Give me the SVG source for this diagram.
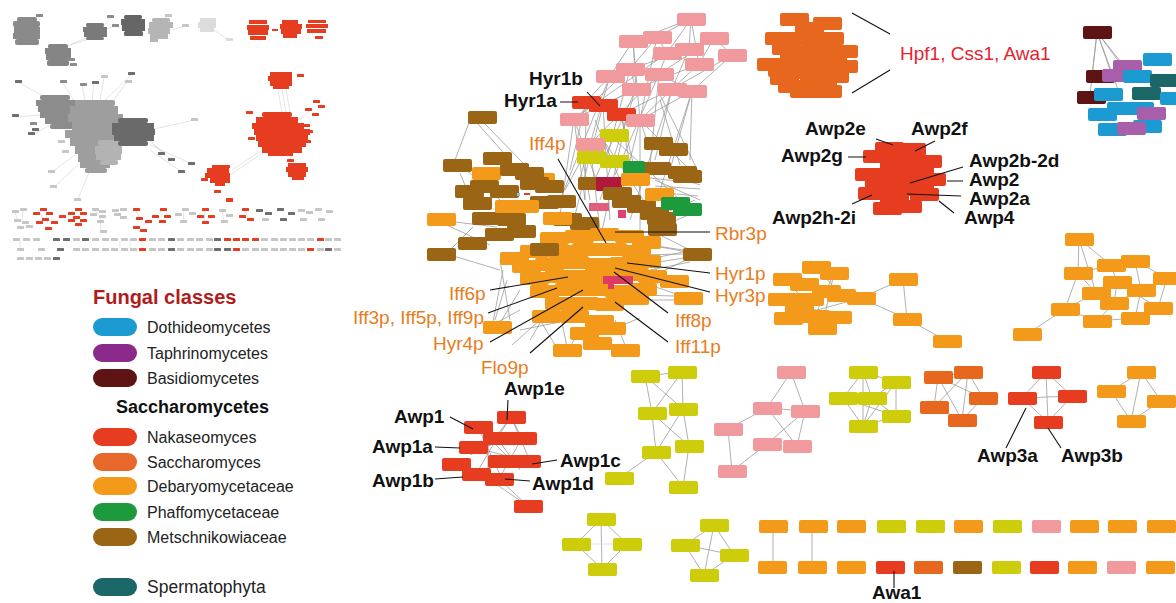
<svg xmlns="http://www.w3.org/2000/svg" xmlns:xlink="http://www.w3.org/1999/xlink" width="1176" height="603" viewBox="0 0 1176 603">
<style>
.e{stroke:#9c9c9c;stroke-width:0.8;fill:none}
.te{stroke:#c9c9c9;stroke-width:0.5;fill:none}
.ld{stroke:#111;stroke-width:1.1;fill:none}
.pk{fill:#f09a9d}.rd{fill:#e63c1f}.og{fill:#e8671e}.db{fill:#f49a1a}.yl{fill:#cdcd0c}.br{fill:#9a6615}.gr{fill:#1c9a3c}.cr{fill:#b0183c}.bl{fill:#1b9bd1}.pu{fill:#a85ea8}.ba{fill:#5e1414}.tl{fill:#1b6666}
.L{fill:#c6c6c6}.D{fill:#6e6e6e}.M{fill:#8c8c8c}.R{fill:#e63c1f}
.lb{font-family:"Liberation Sans",Arial,sans-serif;font-weight:bold;font-size:19px;fill:#111}
.lo{font-family:"Liberation Sans",Arial,sans-serif;font-size:19px;fill:#e87d1e}
.lg{font-family:"Liberation Sans",Arial,sans-serif;font-size:16px;fill:#222}
</style>
<defs>
<rect id="n" width="29" height="13" rx="2"/>
<rect id="s" width="7" height="3" rx="0.6"/>
</defs>
<rect width="1176" height="603" fill="#fff"/>

<!-- thumbnail overview -->
<g id="thumbnail">
<path class="te" d="M40,20L38,16 M88,37L65,47 M92,38L70,45 M104,26L110,18 M104,30L114,26 M170,28L166,17 M172,30L184,26 M214,30L228,40 M18,82L50,100 M131,75L105,100 M104,78L100,100 M16,117L40,115 M32,135L50,125 M194,120L150,130 M192,164L150,145 M182,172L150,150 M52,172L75,155 M78,199L90,170 M54,187L78,165 M62,82L75,102 M82,84L85,102 M94,82L92,102 M127,82L110,105 M150,140L165,155 M150,142L172,160 M232,170L262,150 M230,175L264,152 M278,90L282,112 M282,90L286,112 M286,89L290,112 M312,108L300,120 M292,163L290,155 M300,118L290,128"/>
<g fill="#8a8a8a"><rect x="17" y="17" width="20" height="5" rx="2"/><rect x="13" y="21" width="27" height="6" rx="2"/><rect x="14" y="27" width="26" height="6"/><rect x="13" y="33" width="27" height="6"/><rect x="15" y="39" width="24" height="6" rx="2"/></g>
<use href="#s" x="36" y="14" class="M"/>
<g fill="#858585"><rect x="48" y="44" width="20" height="5" rx="2"/><rect x="45" y="48" width="26" height="6"/><rect x="46" y="54" width="25" height="6"/><rect x="47" y="60" width="22" height="6" rx="2"/></g>
<use href="#s" x="68" y="58" class="M"/><use href="#s" x="70" y="63" class="M"/>
<g fill="#7a7a7a"><rect x="86" y="23" width="18" height="4" rx="1.5"/><rect x="83" y="27" width="24" height="5"/><rect x="84" y="32" width="23" height="5"/><rect x="86" y="37" width="18" height="3" rx="1.5"/></g>
<use href="#s" x="107" y="15" class="M"/><use href="#s" x="112" y="24" class="M"/>
<g fill="#666"><rect x="124" y="15" width="18" height="4" rx="1.5"/><rect x="121" y="19" width="24" height="6"/><rect x="122" y="25" width="23" height="6"/><rect x="124" y="31" width="19" height="5" rx="1.5"/></g>
<g fill="#b5b5b5"><rect x="152" y="18" width="18" height="4" rx="1.5"/><rect x="149" y="22" width="24" height="6"/><rect x="148" y="28" width="22" height="6"/><rect x="150" y="34" width="18" height="5"/><rect x="150" y="39" width="8" height="3"/></g>
<use href="#s" x="165" y="14" class="L"/><use href="#s" x="182" y="24" class="L"/>
<g fill="#dcdcdc"><rect x="200" y="18" width="16" height="4"/><rect x="198" y="22" width="18" height="6"/><rect x="200" y="28" width="14" height="4"/></g>
<use href="#s" x="226" y="38" fill="#dcdcdc"/>
<g fill="#e63c1f"><rect x="249" y="20" width="18" height="4"/><rect x="247" y="25" width="22" height="5"/><rect x="248" y="30" width="20" height="5"/><rect x="250" y="36" width="16" height="4"/>
<rect x="282" y="20" width="16" height="4"/><rect x="280" y="24" width="22" height="5"/><rect x="281" y="29" width="20" height="5"/><rect x="283" y="34" width="14" height="4"/>
<rect x="308" y="20" width="18" height="3"/><rect x="306" y="24" width="22" height="4"/><rect x="307" y="29" width="19" height="4"/><rect x="315" y="36" width="8" height="3"/><rect x="272" y="29" width="6" height="2"/></g>
<!-- gray network -->
<g fill="#8c8c8c"><rect x="40" y="95" width="30" height="5" rx="2"/><rect x="36" y="100" width="40" height="6"/><rect x="38" y="106" width="45" height="6"/><rect x="40" y="112" width="42" height="6"/><rect x="45" y="118" width="35" height="6"/><rect x="50" y="124" width="30" height="5" rx="2"/></g>
<g fill="#9e9e9e"><rect x="75" y="100" width="40" height="6" rx="2"/><rect x="70" y="106" width="48" height="8"/><rect x="68" y="114" width="55" height="8"/><rect x="72" y="122" width="50" height="8"/><rect x="65" y="130" width="55" height="8"/><rect x="70" y="138" width="45" height="8"/><rect x="75" y="146" width="40" height="8"/><rect x="78" y="154" width="35" height="8"/><rect x="80" y="162" width="30" height="6"/><rect x="85" y="168" width="22" height="5" rx="2"/></g>
<g fill="#b3b3b3"><rect x="98" y="140" width="22" height="6" rx="2"/><rect x="95" y="146" width="27" height="8"/><rect x="96" y="154" width="25" height="6"/><rect x="100" y="160" width="18" height="5" rx="2"/></g>
<g fill="#6a6a6a"><rect x="118" y="118" width="30" height="5" rx="2"/><rect x="112" y="123" width="42" height="6"/><rect x="112" y="129" width="43" height="6"/><rect x="114" y="135" width="40" height="6"/><rect x="118" y="141" width="30" height="5" rx="2"/></g>
<use href="#s" x="15" y="80" class="D"/><use href="#s" x="128" y="72" class="D"/><use href="#s" x="101" y="75" class="L"/><use href="#s" x="12" y="114" class="D"/><use href="#s" x="28" y="132" class="D"/><use href="#s" x="191" y="118" class="L"/><use href="#s" x="188" y="162" class="D"/><use href="#s" x="178" y="170" class="D"/><use href="#s" x="48" y="170" class="L"/><use href="#s" x="74" y="198" class="L"/><use href="#s" x="50" y="185" class="L"/><use href="#s" x="60" y="80" class="M"/><use href="#s" x="80" y="83" class="M"/><use href="#s" x="92" y="81" class="D"/><use href="#s" x="125" y="80" class="L"/><use href="#s" x="158" y="152" class="D"/><use href="#s" x="168" y="158" class="D"/><use href="#s" x="30" y="122" class="M"/><use href="#s" x="32" y="128" class="D"/><use href="#s" x="58" y="140" class="L"/><use href="#s" x="62" y="150" class="L"/>
<!-- red network -->
<g fill="#e63c1f"><rect x="262" y="112" width="30" height="5" rx="2"/><rect x="256" y="117" width="42" height="6"/><rect x="252" y="123" width="52" height="6"/><rect x="254" y="129" width="56" height="6"/><rect x="256" y="135" width="52" height="6"/><rect x="258" y="141" width="48" height="6"/><rect x="262" y="147" width="40" height="6"/><rect x="268" y="153" width="25" height="3"/>
<rect x="270" y="72" width="22" height="4"/><rect x="268" y="76" width="24" height="5"/><rect x="270" y="81" width="22" height="5"/><rect x="273" y="86" width="16" height="3"/>
<rect x="288" y="163" width="18" height="4"/><rect x="286" y="167" width="22" height="5"/><rect x="288" y="172" width="18" height="5"/><rect x="292" y="177" width="12" height="3"/>
<rect x="212" y="165" width="18" height="3"/><rect x="207" y="168" width="22" height="5"/><rect x="205" y="173" width="25" height="5"/><rect x="210" y="178" width="20" height="5"/><rect x="215" y="183" width="10" height="3"/></g>
<use href="#s" x="246" y="111" class="R"/><use href="#s" x="248" y="137" class="R"/><use href="#s" x="303" y="124" class="R"/><use href="#s" x="306" y="130" class="R"/><use href="#s" x="304" y="140" class="R"/><use href="#s" x="297" y="74" class="R"/><use href="#s" x="313" y="100" class="R"/><use href="#s" x="318" y="105" class="R"/><use href="#s" x="305" y="108" class="R"/><use href="#s" x="312" y="113" class="R"/><use href="#s" x="287" y="159" class="R"/><use href="#s" x="201" y="178" class="R"/><use href="#s" x="226" y="198" class="R"/><use href="#s" x="214" y="190" class="R"/>
<!-- small clusters row -->
<path class="te" d="M15,212L18,222 M23,210L22,222 M38,210L44,220 M46,214L48,224 M72,210L77,220 M94,210L100,216 M100,217L101,230 M136,210L140,219 M148,222L137,228 M160,210L162,216 M184,210L183,222 M205,210L204,222 M222,211L224,220 M244,210L249,219 M20,241L20,248 M120,241L120,248 M130,241L130,248 M142,241L142,248"/>
<use href="#s" x="12" y="210" class="L"/><use href="#s" x="20" y="208" class="L"/><use href="#s" x="14" y="219" class="L"/><use href="#s" x="22" y="221" class="L"/><use href="#s" x="17" y="226" class="L"/><use href="#s" x="26" y="225" class="L"/>
<use href="#s" x="40" y="208" class="R"/><use href="#s" x="33" y="212" class="R"/><use href="#s" x="46" y="212" class="R"/><use href="#s" x="42" y="218" class="R"/><use href="#s" x="36" y="221" class="R"/><use href="#s" x="51" y="221" class="R"/><use href="#s" x="45" y="227" class="R"/>
<use href="#s" x="59" y="215" class="R"/>
<use href="#s" x="75" y="208" class="R"/><use href="#s" x="68" y="212" class="R"/><use href="#s" x="80" y="212" class="R"/><use href="#s" x="73" y="216" class="R"/><use href="#s" x="68" y="219" class="R"/><use href="#s" x="80" y="219" class="R"/><use href="#s" x="75" y="223" class="R"/>
<use href="#s" x="92" y="208" class="L"/><use href="#s" x="99" y="210" class="L"/><use href="#s" x="90" y="213" class="L"/><use href="#s" x="99" y="215" class="L"/><use href="#s" x="97" y="220" class="L"/><use href="#s" x="100" y="230" class="L"/>
<use href="#s" x="112" y="209" class="L"/><use href="#s" x="120" y="208" class="L"/><use href="#s" x="114" y="213" class="L"/><use href="#s" x="120" y="216" class="L"/>
<use href="#s" x="133" y="208" class="R"/><use href="#s" x="136" y="217" class="R"/><use href="#s" x="145" y="220" class="R"/><use href="#s" x="133" y="226" class="R"/><use href="#s" x="140" y="229" class="R"/>
<use href="#s" x="160" y="208" class="R"/><use href="#s" x="152" y="215" class="R"/><use href="#s" x="164" y="215" class="R"/><use href="#s" x="159" y="220" class="R"/>
<use href="#s" x="175" y="213" class="L"/><use href="#s" x="182" y="208" class="L"/><use href="#s" x="180" y="220" class="L"/><use href="#s" x="189" y="212" class="L"/>
<use href="#s" x="202" y="208" class="R"/><use href="#s" x="197" y="215" class="R"/><use href="#s" x="208" y="215" class="R"/><use href="#s" x="202" y="221" class="R"/>
<use href="#s" x="226" y="199" class="R"/>
<use href="#s" x="219" y="209" class="L"/><use href="#s" x="226" y="214" class="L"/><use href="#s" x="221" y="220" class="L"/>
<use href="#s" x="242" y="208" class="R"/><use href="#s" x="239" y="215" class="R"/><use href="#s" x="247" y="218" class="R"/>
<use href="#s" x="256" y="209" class="D"/><use href="#s" x="265" y="212" class="D"/><use href="#s" x="277" y="208" class="D"/><use href="#s" x="288" y="212" class="D"/><use href="#s" x="280" y="218" class="D"/><use href="#s" x="262" y="218" class="L"/>
<use href="#s" x="298" y="209" class="L"/><use href="#s" x="306" y="211" class="L"/><use href="#s" x="300" y="218" class="L"/><use href="#s" x="315" y="208" class="L"/><use href="#s" x="326" y="210" class="L"/><use href="#s" x="318" y="218" class="L"/>
<!-- rows -->
<use href="#s" x="13" y="238" class="L"/><use href="#s" x="23" y="238" class="L"/><use href="#s" x="33" y="238" class="L"/><use href="#s" x="53" y="238" class="D"/><use href="#s" x="63" y="238" class="D"/><use href="#s" x="73" y="238" class="L"/><use href="#s" x="82" y="238" class="D"/><use href="#s" x="92" y="238" class="L"/><use href="#s" x="102" y="238" class="L"/><use href="#s" x="111" y="238" class="L"/><use href="#s" x="121" y="238" class="L"/><use href="#s" x="130" y="238" class="L"/><use href="#s" x="139" y="238" class="R"/><use href="#s" x="149" y="238" class="L"/><use href="#s" x="158" y="238" class="L"/><use href="#s" x="168" y="238" class="D"/><use href="#s" x="177" y="238" class="L"/><use href="#s" x="187" y="238" class="L"/><use href="#s" x="196" y="238" class="L"/><use href="#s" x="206" y="238" class="L"/><use href="#s" x="214" y="238" class="D"/><use href="#s" x="224" y="238" class="R"/><use href="#s" x="233" y="238" class="R"/><use href="#s" x="242" y="238" class="R"/><use href="#s" x="252" y="238" class="R"/><use href="#s" x="261" y="238" class="L"/><use href="#s" x="271" y="238" class="L"/><use href="#s" x="280" y="238" class="L"/><use href="#s" x="289" y="238" class="L"/><use href="#s" x="298" y="238" class="L"/><use href="#s" x="307" y="238" class="L"/><use href="#s" x="317" y="238" class="R"/><use href="#s" x="325" y="238" class="L"/><use href="#s" x="334" y="238" class="L"/>
<use href="#s" x="17" y="248" class="L"/><use href="#s" x="38" y="248" class="L"/><use href="#s" x="57" y="248" class="D"/><use href="#s" x="73" y="248" class="L"/><use href="#s" x="82" y="248" class="L"/><use href="#s" x="92" y="248" class="L"/><use href="#s" x="102" y="248" class="L"/><use href="#s" x="111" y="248" class="L"/><use href="#s" x="121" y="248" class="L"/><use href="#s" x="130" y="248" class="L"/><use href="#s" x="139" y="248" class="R"/><use href="#s" x="149" y="248" class="L"/><use href="#s" x="158" y="248" class="L"/><use href="#s" x="168" y="248" class="D"/><use href="#s" x="177" y="248" class="L"/><use href="#s" x="187" y="248" class="L"/><use href="#s" x="196" y="248" class="L"/><use href="#s" x="206" y="248" class="L"/><use href="#s" x="214" y="248" class="D"/><use href="#s" x="224" y="248" class="D"/><use href="#s" x="233" y="248" class="R"/><use href="#s" x="242" y="248" class="L"/><use href="#s" x="252" y="248" class="L"/><use href="#s" x="261" y="248" class="L"/><use href="#s" x="271" y="248" class="L"/><use href="#s" x="280" y="248" class="L"/><use href="#s" x="289" y="248" class="L"/><use href="#s" x="298" y="248" class="L"/><use href="#s" x="307" y="248" class="R"/><use href="#s" x="317" y="248" class="L"/><use href="#s" x="325" y="248" class="D"/><use href="#s" x="334" y="248" class="L"/>
<use href="#s" x="17" y="257" class="L"/><use href="#s" x="26" y="257" class="L"/><use href="#s" x="35" y="257" class="L"/><use href="#s" x="44" y="257" class="L"/><use href="#s" x="53" y="257" class="D"/>
</g>

<!-- legend -->
<g id="legend">
<text x="93" y="304" style="font-family:'Liberation Sans',Arial,sans-serif;font-weight:bold;font-size:20px;fill:#b01c1c">Fungal classes</text>
<rect x="93" y="318" width="44" height="18" rx="9" fill="#1b9bd1"/><text class="lg" x="147" y="333">Dothideomycetes</text>
<rect x="93" y="344" width="44" height="18" rx="9" fill="#8b2a8b"/><text class="lg" x="147" y="359">Taphrinomycetes</text>
<rect x="93" y="369" width="44" height="18" rx="9" fill="#5e1414"/><text class="lg" x="147" y="384">Basidiomycetes</text>
<text x="116" y="413" style="font-family:'Liberation Sans',Arial,sans-serif;font-weight:bold;font-size:18px;fill:#111">Saccharomycetes</text>
<rect x="93" y="428" width="44" height="18" rx="9" fill="#e63c1f"/><text class="lg" x="147" y="443">Nakaseomyces</text>
<rect x="93" y="453" width="44" height="18" rx="9" fill="#e8672a"/><text class="lg" x="147" y="468">Saccharomyces</text>
<rect x="93" y="477" width="44" height="18" rx="9" fill="#f49a1a"/><text class="lg" x="147" y="492">Debaryomycetaceae</text>
<rect x="93" y="503" width="44" height="18" rx="9" fill="#1c9a3c"/><text class="lg" x="147" y="518">Phaffomycetaceae</text>
<rect x="93" y="528" width="44" height="18" rx="9" fill="#9a6615"/><text class="lg" x="147" y="543">Metschnikowiaceae</text>
<rect x="93" y="578" width="44" height="18" rx="9" fill="#1b6666"/><text class="lg" x="147" y="593" style="font-size:17.5px">Spermatophyta</text>
</g>

<!-- connectors -->
<g id="connectors" class="e">
<path d="M691,19L689,49 M691,19L699,64 M691,19L667,53 M691,19L657,37 M714,38L732,55 M714,38L699,64 M657,37L667,53 M633,41L610,76 M633,41L636,89 M657,37L630,69 M667,53L659,74 M689,49L672,89 M732,55L692,91 M699,64L636,89 M699,64L672,89 M630,69L636,89 M659,74L692,91 M610,76L636,89 M689,49L610,76 M732,55L672,89 M633,41L640,120 M657,37L640,120 M667,53L574,119 M636,89L574,119 M672,89L640,120 M692,91L640,120 M659,74L590,144 M630,69L574,119 M610,76L586,102 M636,89L603,105 M672,89L621,114 M714,38L659,74 M691,19L633,41"/>
<path d="M574,119L600,190 M574,119L585,200 M640,120L620,200 M636,89L590,190 M672,89L655,160 M692,91L670,170 M640,120L650,150 M659,74L615,175 M610,76L578,185 M630,69L605,165 M586,102L585,200 M621,114L640,190 M603,105L610,220 M590,144L565,190 M640,120L690,170 M660,100L680,165 M636,89L600,200 M692,91L660,190 M672,89L630,220 M610,76L560,200 M590,144L600,230 M574,119L560,215 M640,120L640,230 M626,120L600,240 M692,91L690,160 M659,74L650,165 M586,102L570,170 M603,105L575,215 M621,114L630,165 M600,135L650,210 M615,140L680,200 M580,145L590,200 M595,120L620,180 M660,95L700,175"/>
<path d="M650,178L695,183 M655,186L700,189 M655,192L698,196 M650,230L690,250 M640,255L683,254 M645,260L683,252 M640,265L690,257 M650,270L690,262 M655,275L690,258 M650,245L683,250 M660,215L695,200 M665,225L700,210 M655,180L700,200 M660,170L700,185"/>
<path d="M485,124L525,165 M478,124L510,160 M460,173L475,210 M455,222L497,227 M450,250L473,227 M450,255L500,270 M440,222L490,245 M500,260L510,320 M503,270L492,327 M455,160L500,200 M470,120L455,160"/>
<path d="M500,323L520,290 M495,320L507,280 M560,313L567,347 M546,317L560,300 M568,350L580,330 M595,345L600,325 M625,345L615,320 M555,345L540,320 M598,340L625,348 M543,318L530,340 M610,330L640,318 M640,300L660,281 M650,285L688,298 M640,295L674,296 M650,265L672,281 M650,245L697,254 M630,300L688,300 M520,330L560,322 M512,345L540,320 M487,328L520,310"/>
<path d="M1097,32L1092,76 M1097,32L1110,70 M1097,32L1125,70 M1097,32L1120,95 M1097,32L1090,95 M1097,32L1135,80"/>
<path d="M861,298L903,279 M861,298L907,319 M903,279L907,319 M907,319L947,341 M816,267L841,295 M787,279L861,298 M834,273L822,328 M782,299L837,317 M809,299L841,295 M788,318L861,298 M815,316L834,273 M787,279L815,316"/>
<path d="M1079,239L1078,273 M1079,239L1111,265 M1079,239L1096,293 M1078,273L1096,293 M1078,273L1065,309 M1065,309L1027,334 M1065,309L1096,293 M1065,309L1097,321 M1111,265L1135,261 M1111,265L1117,282 M1135,261L1167,278 M1135,261L1141,290 M1167,278L1158,308 M1117,282L1114,303 M1096,293L1114,303 M1141,290L1135,318 M1114,303L1097,321 M1158,308L1135,318 M1078,273L1111,265 M1097,321L1135,318 M1117,282L1158,308 M1141,290L1114,303 M1167,278L1141,290"/>
<path d="M645,376L682,372 M645,376L652,413 M682,372L652,413 M682,372L683,409 M645,376L683,409 M652,413L656,452 M652,413L689,446 M683,409L656,452 M683,409L689,446 M656,452L619,478 M656,452L683,487 M689,446L683,487"/>
<path d="M601,519L576,544 M601,519L627,544 M601,519L602,569 M576,544L602,569 M627,544L602,569"/>
<path d="M576,544L627,544" style="stroke:#d8d8d8"/>
<path d="M714,525L685,545 M714,525L734,555 M714,525L704,575 M685,545L734,555 M685,545L704,575 M734,555L704,575"/>
<path d="M791,372L767,408 M791,372L805,411 M767,408L805,411 M767,408L797,446 M805,411L767,444 M805,411L797,446 M728,429L767,408 M728,429L732,471 M767,444L732,471"/>
<path d="M863,372L896,382 M863,372L843,398 M863,372L872,398 M863,372L863,426 M896,382L872,398 M896,382L896,416 M896,382L863,426 M843,398L863,426 M872,398L896,416 M872,398L863,426 M896,416L863,426 M843,398L896,416"/>
<path d="M938,377L968,372 M938,377L934,407 M938,377L962,420 M938,377L983,398 M968,372L983,398 M968,372L962,420 M968,372L934,407 M983,398L962,420 M934,407L962,420"/>
<path d="M1046,372L1022,398 M1046,372L1072,396 M1046,372L1048,422 M1022,398L1072,396 M1022,398L1048,422 M1072,396L1048,422"/>
<path d="M1141,372L1111,391 M1141,372L1161,401 M1141,372L1131,421 M1111,391L1131,421 M1161,401L1131,421"/>
<path d="M773,533L773,561 M812,533L812,561"/>
<path d="M511,417L497,438 M511,417L522,438 M511,417L488,447 M511,417L530,461 M478,427L512,461 M478,427L502,479 M473,447L526,461 M456,464L502,479 M497,438L476,474 M522,438L499,479 M499,479L528,506 M490,480L528,506 M488,445L488,470 M502,445L520,470 M470,455L505,438"/>
</g>

<!-- node clusters -->
<g id="cluster-pink-hyr">
<use href="#n" x="677" y="13" class="pk"/><use href="#n" x="619" y="35" class="pk"/><use href="#n" x="643" y="31" class="pk"/><use href="#n" x="700" y="32" class="pk"/><use href="#n" x="653" y="47" class="pk"/><use href="#n" x="675" y="43" class="pk"/><use href="#n" x="718" y="49" class="pk"/><use href="#n" x="685" y="58" class="pk"/><use href="#n" x="596" y="70" class="pk"/><use href="#n" x="616" y="63" class="pk"/><use href="#n" x="645" y="68" class="pk"/><use href="#n" x="622" y="83" class="pk"/><use href="#n" x="658" y="83" class="pk"/><use href="#n" x="678" y="85" class="pk"/><use href="#n" x="560" y="113" class="pk"/>
<use href="#n" x="572" y="96" class="rd"/><use href="#n" x="589" y="99" class="rd"/><use href="#n" x="607" y="108" class="rd"/>
<use href="#n" x="626" y="114" class="pk"/><use href="#n" x="600" y="129" class="yl"/><use href="#n" x="576" y="138" class="pk"/><use href="#n" x="577" y="151" class="yl"/><use href="#n" x="600" y="155" class="yl"/>
</g>

<g id="cluster-central">
<use href="#n" x="472" y="167" class="db"/><use href="#n" x="526" y="173" class="db"/>
<use href="#n" x="468" y="111" class="br"/><use href="#n" x="443" y="159" class="br"/><use href="#n" x="483" y="152" class="br"/><use href="#n" x="500" y="163" class="br"/><use href="#n" x="515" y="167" class="br"/><use href="#n" x="455" y="185" class="br"/><use href="#n" x="490" y="185" class="br"/><use href="#n" x="470" y="180" class="br"/><use href="#n" x="520" y="177" class="br"/><use href="#n" x="535" y="180" class="br"/><use href="#n" x="530" y="196" class="br"/><use href="#n" x="547" y="195" class="br"/><use href="#n" x="463" y="197" class="br"/><use href="#n" x="472" y="212" class="br"/><use href="#n" x="497" y="213" class="br"/><use href="#n" x="507" y="225" class="br"/><use href="#n" x="485" y="228" class="br"/><use href="#n" x="458" y="237" class="br"/><use href="#n" x="427" y="248" class="br"/><use href="#n" x="553" y="213" class="br"/><use href="#n" x="570" y="217" class="br"/><use href="#n" x="578" y="177" class="br"/><use href="#n" x="644" y="137" class="br"/><use href="#n" x="659" y="143" class="br"/><use href="#n" x="642" y="162" class="br"/><use href="#n" x="668" y="166" class="br"/><use href="#n" x="673" y="170" class="br"/><use href="#n" x="683" y="248" class="br"/>
<rect x="623" y="161" width="22" height="13" rx="2" class="gr"/>
<rect x="596" y="177" width="26" height="14" rx="1" class="cr"/>
<use href="#n" x="621" y="173" class="db"/>
<use href="#n" x="603" y="187" class="br"/><use href="#n" x="612" y="195" class="br"/><use href="#n" x="627" y="200" class="br"/><use href="#n" x="645" y="188" class="db"/><use href="#n" x="640" y="207" class="br"/><use href="#n" x="647" y="212" class="br"/><use href="#n" x="648" y="223" class="br"/>
<use href="#n" x="661" y="197" class="gr"/><use href="#n" x="673" y="203" class="gr"/>
<use href="#n" x="495" y="200" class="db"/><use href="#n" x="510" y="200" class="db"/><use href="#n" x="543" y="212" class="db"/><use href="#n" x="427" y="213" class="db"/>
<rect x="589" y="203" width="20" height="8" fill="#e0607a"/><rect x="618" y="210" width="8" height="8" fill="#e04070"/>
<rect x="517" y="193" width="3" height="3" fill="#7fc6e6"/><rect x="524" y="193" width="6" height="2" fill="#e63c1f"/>
<use href="#n" x="540" y="232" class="db"/><use href="#n" x="565" y="230" class="db"/><use href="#n" x="590" y="228" class="db"/><use href="#n" x="615" y="230" class="db"/><use href="#n" x="632" y="236" class="db"/>
<use href="#n" x="520" y="245" class="db"/><use href="#n" x="548" y="245" class="db"/><use href="#n" x="572" y="243" class="db"/><use href="#n" x="598" y="243" class="db"/><use href="#n" x="622" y="245" class="db"/>
<use href="#n" x="530" y="243" class="br"/>
<use href="#n" x="500" y="252" class="db"/><use href="#n" x="512" y="260" class="db"/><use href="#n" x="535" y="258" class="db"/><use href="#n" x="560" y="256" class="db"/><use href="#n" x="585" y="258" class="db"/><use href="#n" x="610" y="257" class="db"/><use href="#n" x="632" y="255" class="db"/>
<use href="#n" x="520" y="272" class="db"/><use href="#n" x="545" y="270" class="db"/><use href="#n" x="570" y="270" class="db"/><use href="#n" x="595" y="270" class="db"/><use href="#n" x="620" y="268" class="db"/><use href="#n" x="638" y="270" class="db"/>
<use href="#n" x="530" y="285" class="db"/><use href="#n" x="555" y="283" class="db"/><use href="#n" x="580" y="283" class="db"/><use href="#n" x="605" y="285" class="db"/><use href="#n" x="628" y="283" class="db"/>
<use href="#n" x="545" y="297" class="db"/><use href="#n" x="570" y="297" class="db"/><use href="#n" x="595" y="298" class="db"/><use href="#n" x="620" y="292" class="db"/>
<use href="#n" x="532" y="310" class="db"/><use href="#n" x="560" y="310" class="db"/><use href="#n" x="585" y="315" class="db"/><use href="#n" x="597" y="322" class="db"/>
<use href="#n" x="483" y="321" class="db"/><use href="#n" x="553" y="344" class="db"/><use href="#n" x="570" y="327" class="db"/><use href="#n" x="583" y="337" class="db"/><use href="#n" x="611" y="344" class="db"/><use href="#n" x="660" y="275" class="db"/><use href="#n" x="674" y="292" class="db"/>
<rect x="603" y="276" width="30" height="8" fill="#dd3a64"/><rect x="608" y="284" width="6" height="5" fill="#dd3a64"/>
</g>

<g id="cluster-saccharomyces-top">
<use href="#n" x="780" y="13" class="og"/><use href="#n" x="813" y="17" class="og"/><use href="#n" x="795" y="22" class="og"/><use href="#n" x="765" y="32" class="og"/><use href="#n" x="790" y="32" class="og"/><use href="#n" x="815" y="32" class="og"/><use href="#n" x="772" y="42" class="og"/><use href="#n" x="805" y="40" class="og"/><use href="#n" x="800" y="45" class="og"/><use href="#n" x="829" y="45" class="og"/><use href="#n" x="780" y="50" class="og"/><use href="#n" x="818" y="50" class="og"/><use href="#n" x="757" y="58" class="og"/><use href="#n" x="785" y="58" class="og"/><use href="#n" x="810" y="58" class="og"/><use href="#n" x="829" y="60" class="og"/><use href="#n" x="768" y="64" class="og"/><use href="#n" x="795" y="66" class="og"/><use href="#n" x="820" y="70" class="og"/><use href="#n" x="770" y="72" class="og"/><use href="#n" x="800" y="72" class="og"/><use href="#n" x="778" y="80" class="og"/><use href="#n" x="808" y="80" class="og"/><use href="#n" x="790" y="85" class="og"/><use href="#n" x="813" y="85" class="og"/>
</g>

<g id="cluster-awp2">
<use href="#n" x="875" y="142" class="rd"/><use href="#n" x="897" y="143" class="rd"/><use href="#n" x="863" y="150" class="rd"/><use href="#n" x="890" y="153" class="rd"/><use href="#n" x="913" y="155" class="rd"/><use href="#n" x="880" y="158" class="rd"/><use href="#n" x="905" y="161" class="rd"/><use href="#n" x="855" y="168" class="rd"/><use href="#n" x="877" y="168" class="rd"/><use href="#n" x="897" y="167" class="rd"/><use href="#n" x="917" y="173" class="rd"/><use href="#n" x="865" y="176" class="rd"/><use href="#n" x="887" y="175" class="rd"/><use href="#n" x="905" y="178" class="rd"/><use href="#n" x="858" y="187" class="rd"/><use href="#n" x="873" y="182" class="rd"/><use href="#n" x="890" y="183" class="rd"/><use href="#n" x="910" y="188" class="rd"/><use href="#n" x="880" y="192" class="rd"/><use href="#n" x="873" y="202" class="rd"/><use href="#n" x="893" y="200" class="rd"/>
</g>

<g id="cluster-outgroup">
<use href="#n" x="1083" y="26" class="ba"/>
<use href="#n" x="1143" y="53" class="bl"/><use href="#n" x="1086" y="70" class="ba"/><use href="#n" x="1077" y="91" class="ba"/>
<use href="#n" x="1113" y="60" class="pu"/><use href="#n" x="1102" y="69" class="pu"/><use href="#n" x="1123" y="70" class="bl"/><use href="#n" x="1150" y="74" class="tl"/><use href="#n" x="1094" y="88" class="bl"/><use href="#n" x="1132" y="87" class="tl"/><use href="#n" x="1160" y="92" class="bl"/>
<use href="#n" x="1107" y="102" class="bl"/><use href="#n" x="1125" y="102" class="bl"/><use href="#n" x="1137" y="107" class="pu"/><use href="#n" x="1088" y="108" class="bl"/>
<use href="#n" x="1133" y="120" class="bl"/><use href="#n" x="1098" y="123" class="bl"/><use href="#n" x="1117" y="122" class="pu"/>
</g>

<g id="cluster-deb-a">
<use href="#n" x="802" y="261" class="db"/><use href="#n" x="773" y="273" class="db"/><use href="#n" x="820" y="267" class="db"/><use href="#n" x="790" y="278" class="db"/><use href="#n" x="812" y="285" class="db"/><use href="#n" x="827" y="289" class="db"/><use href="#n" x="847" y="292" class="db"/><use href="#n" x="768" y="293" class="db"/><use href="#n" x="795" y="293" class="db"/><use href="#n" x="785" y="303" class="db"/><use href="#n" x="774" y="312" class="db"/><use href="#n" x="801" y="310" class="db"/><use href="#n" x="823" y="311" class="db"/><use href="#n" x="808" y="322" class="db"/><use href="#n" x="889" y="273" class="db"/><use href="#n" x="893" y="313" class="db"/><use href="#n" x="933" y="335" class="db"/>
</g>

<g id="cluster-deb-b">
<use href="#n" x="1065" y="233" class="db"/><use href="#n" x="1064" y="267" class="db"/><use href="#n" x="1097" y="259" class="db"/><use href="#n" x="1121" y="255" class="db"/><use href="#n" x="1153" y="272" class="db"/><use href="#n" x="1103" y="276" class="db"/><use href="#n" x="1082" y="287" class="db"/><use href="#n" x="1127" y="284" class="db"/><use href="#n" x="1100" y="297" class="db"/><use href="#n" x="1051" y="303" class="db"/><use href="#n" x="1144" y="302" class="db"/><use href="#n" x="1083" y="315" class="db"/><use href="#n" x="1121" y="312" class="db"/><use href="#n" x="1013" y="328" class="db"/>
</g>

<g id="cluster-awp1">
<use href="#n" x="497" y="411" class="rd"/><use href="#n" x="464" y="421" class="rd"/><use href="#n" x="483" y="432" class="rd"/><use href="#n" x="508" y="432" class="rd"/><use href="#n" x="459" y="441" class="rd"/><use href="#n" x="442" y="458" class="rd"/><use href="#n" x="488" y="455" class="rd"/><use href="#n" x="512" y="455" class="rd"/><use href="#n" x="462" y="468" class="rd"/><use href="#n" x="485" y="473" class="rd"/><use href="#n" x="514" y="500" class="rd"/>
</g>

<g id="cluster-yellow-1">
<use href="#n" x="631" y="370" class="yl"/><use href="#n" x="668" y="366" class="yl"/><use href="#n" x="638" y="407" class="yl"/><use href="#n" x="669" y="403" class="yl"/><use href="#n" x="642" y="446" class="yl"/><use href="#n" x="675" y="440" class="yl"/><use href="#n" x="605" y="472" class="yl"/><use href="#n" x="669" y="481" class="yl"/>
</g>
<g id="cluster-yellow-2">
<use href="#n" x="587" y="513" class="yl"/><use href="#n" x="562" y="538" class="yl"/><use href="#n" x="613" y="538" class="yl"/><use href="#n" x="588" y="563" class="yl"/>
</g>
<g id="cluster-yellow-3">
<use href="#n" x="700" y="519" class="yl"/><use href="#n" x="671" y="539" class="yl"/><use href="#n" x="720" y="549" class="yl"/><use href="#n" x="690" y="569" class="yl"/>
</g>
<g id="cluster-pink-2">
<use href="#n" x="777" y="366" class="pk"/><use href="#n" x="753" y="402" class="pk"/><use href="#n" x="791" y="405" class="pk"/><use href="#n" x="753" y="438" class="pk"/><use href="#n" x="783" y="440" class="pk"/><use href="#n" x="714" y="423" class="pk"/><use href="#n" x="718" y="465" class="pk"/>
</g>
<g id="cluster-yellow-4">
<use href="#n" x="849" y="366" class="yl"/><use href="#n" x="882" y="376" class="yl"/><use href="#n" x="829" y="392" class="yl"/><use href="#n" x="858" y="392" class="yl"/><use href="#n" x="882" y="410" class="yl"/><use href="#n" x="849" y="420" class="yl"/>
</g>
<g id="cluster-sacch-2">
<use href="#n" x="924" y="371" class="og"/><use href="#n" x="954" y="366" class="og"/><use href="#n" x="969" y="392" class="og"/><use href="#n" x="920" y="401" class="og"/><use href="#n" x="948" y="414" class="og"/>
</g>
<g id="cluster-awp3">
<use href="#n" x="1032" y="366" class="rd"/><use href="#n" x="1008" y="392" class="rd"/><use href="#n" x="1058" y="390" class="rd"/><use href="#n" x="1034" y="416" class="rd"/>
</g>
<g id="cluster-deb-c">
<use href="#n" x="1127" y="366" class="db"/><use href="#n" x="1097" y="385" class="db"/><use href="#n" x="1147" y="395" class="db"/><use href="#n" x="1117" y="415" class="db"/>
</g>
<g id="singletons">
<use href="#n" x="759" y="520" class="db"/><use href="#n" x="799" y="520" class="db"/><use href="#n" x="837" y="520" class="db"/><use href="#n" x="877" y="520" class="yl"/><use href="#n" x="916" y="520" class="yl"/><use href="#n" x="954" y="520" class="db"/><use href="#n" x="993" y="520" class="yl"/><use href="#n" x="1032" y="520" class="pk"/><use href="#n" x="1070" y="520" class="db"/><use href="#n" x="1108" y="520" class="db"/><use href="#n" x="1147" y="520" class="db"/>
<use href="#n" x="758" y="561" class="db"/><use href="#n" x="798" y="561" class="db"/><use href="#n" x="837" y="561" class="db"/><use href="#n" x="876" y="561" class="rd"/><use href="#n" x="914" y="561" class="og"/><use href="#n" x="953" y="561" class="br"/><use href="#n" x="992" y="561" class="yl"/><use href="#n" x="1030" y="561" class="rd"/><use href="#n" x="1068" y="561" class="db"/><use href="#n" x="1107" y="561" class="pk"/><use href="#n" x="1146" y="561" class="db"/>
</g>

<!-- label leaders -->
<g id="leaders" class="ld">
<path d="M560,102L578,102 M587,92L600,106 M558,159L606,243 M710,232L615,232 M710,273L627,263 M710,292L615,268 M668,313L614,272 M668,342L615,302 M490,290L568,277 M488,313L557,288 M490,342L583,290 M530,353L583,307"/>
<path d="M852,13L890,34 M890,70L852,93"/>
<path d="M876,139L893,145 M935,141L915,151 M848,157L866,157 M963,167L910,183 M963,181L947,181 M961,196L907,194 M954,213L939,201 M852,204L872,195"/>
<path d="M508,400L507,420 M450,417L473,429 M435,447L460,448 M557,460L532,464 M435,479L463,477 M530,481L505,479"/>
<path d="M1026,408L1006,448 M1048,428L1061,448 M894,571L894,588"/>
</g>

<!-- labels -->
<g id="labels">
<text class="lb" x="504" y="107">Hyr1a</text>
<text class="lb" x="529" y="85">Hyr1b</text>
<text class="lo" x="529" y="150">Iff4p</text>
<text class="lo" x="715" y="240">Rbr3p</text>
<text class="lo" x="715" y="280">Hyr1p</text>
<text class="lo" x="715" y="302">Hyr3p</text>
<text class="lo" x="675" y="327">Iff8p</text>
<text class="lo" x="675" y="353">Iff11p</text>
<text class="lo" x="449" y="300">Iff6p</text>
<text class="lo" x="484" y="324" text-anchor="end">Iff3p, Iff5p, Iff9p</text>
<text class="lo" x="433" y="350">Hyr4p</text>
<text class="lo" x="481" y="374">Flo9p</text>
<text x="900" y="60" style="font-family:'Liberation Sans',Arial,sans-serif;font-size:19px;fill:#e52330">Hpf1, Css1, Awa1</text>
<text class="lb" x="805" y="135">Awp2e</text>
<text class="lb" x="911" y="135">Awp2f</text>
<text class="lb" x="781" y="162">Awp2g</text>
<text class="lb" x="969" y="167">Awp2b-2d</text>
<text class="lb" x="969" y="186">Awp2</text>
<text class="lb" x="969" y="205">Awp2a</text>
<text class="lb" x="964" y="224">Awp4</text>
<text class="lb" x="772" y="224">Awp2h-2i</text>
<text class="lb" x="504" y="395">Awp1e</text>
<text class="lb" x="394" y="423">Awp1</text>
<text class="lb" x="372" y="453">Awp1a</text>
<text class="lb" x="560" y="467">Awp1c</text>
<text class="lb" x="372" y="487">Awp1b</text>
<text class="lb" x="532" y="490">Awp1d</text>
<text class="lb" x="977" y="462">Awp3a</text>
<text class="lb" x="1061" y="462">Awp3b</text>
<text class="lb" x="872" y="599">Awa1</text>
</g>
</svg>
